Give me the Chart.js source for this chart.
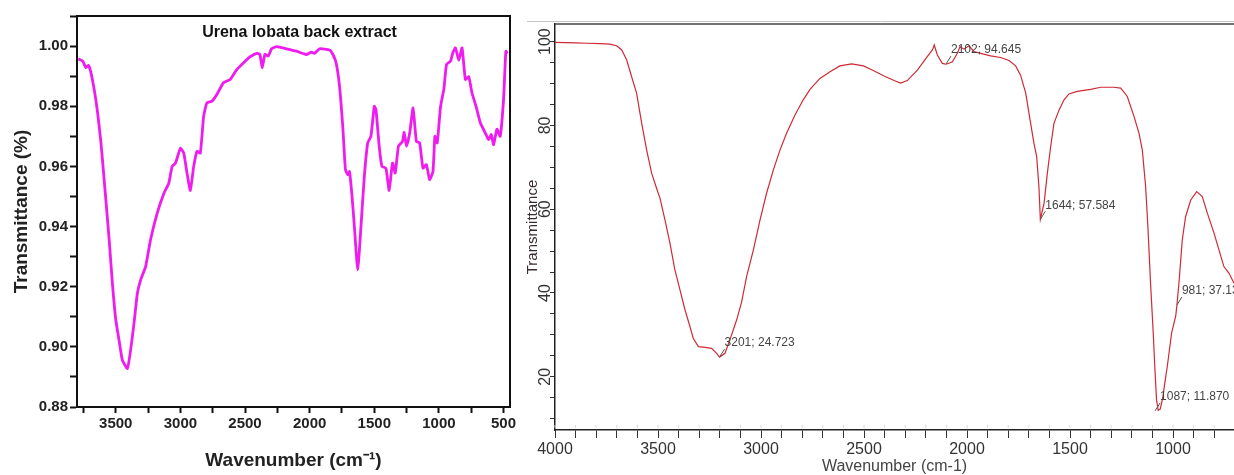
<!DOCTYPE html>
<html lang="en">
  <head>
    <meta charset="UTF-8" />
    <title>FTIR spectra</title>
    <script src="https://cdn.jsdelivr.net/npm/chart.js"></script>
    <style>
      body {
        margin: 0;
        background: #fff;
        width: 1234px;
        height: 475px;
        overflow: hidden;
        position: relative;
      }
      #leftChart { position: absolute; left: 0; top: 0; }
      #rightChart { position: absolute; left: 520px; top: 0; }
    </style>
  </head>
  <body>
    <canvas id="leftChart" width="520" height="475"></canvas>
    <canvas id="rightChart" width="714" height="475"></canvas>
    <script>
      // left spectrum: Urena lobata back extract
      const leftWavenumber = [
        3790, 3756, 3731, 3713, 3697, 3667, 3641, 3615, 3590, 3577, 3551, 3526,
        3500, 3474, 3449, 3410, 3385, 3359, 3333, 3308, 3269, 3231, 3180, 3128,
        3090, 3064, 3038, 3000, 2974, 2949, 2923, 2897, 2872, 2846, 2820, 2795,
        2756, 2718, 2667, 2615, 2564, 2513, 2462, 2410, 2385, 2367, 2346, 2320,
        2295, 2256, 2180, 2103, 2026, 1987, 1962, 1923, 1846, 1820, 1795, 1769,
        1744, 1723, 1705, 1692, 1674, 1654, 1628, 1603, 1577, 1551, 1526, 1500,
        1487, 1462, 1441, 1410, 1385, 1359, 1338, 1313, 1282, 1269, 1251, 1226,
        1200, 1174, 1149, 1123, 1097, 1072, 1046, 1031, 1013, 987, 962, 941,
        910, 892, 872, 846, 821, 795, 769, 744, 713, 679, 641, 615, 595, 577,
        551, 526, 500, 482, 470,
      ];
      const leftTransmittance = [
        0.9958, 0.995, 0.9928, 0.9936, 0.992, 0.9856, 0.978, 0.968, 0.9556,
        0.949, 0.9356, 0.921, 0.909, 0.902, 0.8956, 0.8928, 0.899, 0.9078,
        0.9178, 0.9222, 0.9267, 0.9356, 0.9444, 0.951, 0.9544, 0.96, 0.9611,
        0.966, 0.9644, 0.9578, 0.952, 0.96, 0.965, 0.9644, 0.9767, 0.9811,
        0.9817, 0.9839, 0.9878, 0.9889, 0.9922, 0.9944, 0.9964, 0.9976, 0.9972,
        0.9928, 0.9972, 0.9967, 0.9991, 0.9998, 0.9991, 0.9983, 0.9972, 0.998,
        0.9976, 0.9991, 0.9987, 0.9972, 0.9944, 0.9867, 0.9733, 0.9589, 0.9572,
        0.9583, 0.951, 0.94, 0.9256, 0.94, 0.9567, 0.9678, 0.97, 0.98, 0.9789,
        0.9667, 0.96, 0.9594, 0.952, 0.9611, 0.9578, 0.9667, 0.9683, 0.9713,
        0.9667, 0.9711, 0.9794, 0.9683, 0.9678, 0.9594, 0.9606, 0.9556, 0.9583,
        0.97, 0.9678, 0.98, 0.9856, 0.9939, 0.995, 0.9978, 0.9994, 0.9953,
        0.9994, 0.9889, 0.9898, 0.9844, 0.98, 0.9744, 0.9711, 0.9689, 0.9706,
        0.9672, 0.9724, 0.97, 0.9822, 0.9983, 0.9975,
      ];
      const leftTitle = "Urena lobata back extract";

      // right spectrum (instrument printout)
      const rightWavenumber = [
        4000, 3900, 3846, 3780, 3733, 3701, 3676, 3652, 3628, 3604, 3579, 3555,
        3531, 3507, 3490, 3466, 3442, 3418, 3393, 3369, 3345, 3329, 3304, 3272,
        3240, 3215, 3201, 3175, 3151, 3118, 3094, 3070, 3037, 3005, 2973, 2940,
        2908, 2876, 2835, 2795, 2762, 2714, 2665, 2617, 2560, 2503, 2455, 2403,
        2354, 2322, 2290, 2241, 2193, 2168, 2159, 2144, 2120, 2102, 2085, 2071,
        2047, 2034, 2015, 1990, 1966, 1934, 1885, 1837, 1796, 1764, 1740, 1715,
        1694, 1675, 1662, 1651, 1644, 1626, 1610, 1594, 1578, 1553, 1529, 1505,
        1465, 1400, 1351, 1287, 1254, 1222, 1189, 1165, 1149, 1133, 1122, 1109,
        1096, 1088, 1080, 1072, 1062, 1050, 1040, 1028, 1007, 987, 981, 971,
        955, 939, 914, 885, 858, 833, 801, 777, 753, 728, 704,
      ];
      const rightTransmittance = [
        99.8, 99.7, 99.6, 99.5, 99.4, 99.0, 98.0, 95.6, 91.6, 87.7, 80.5, 74.1,
        68.6, 65.0, 62.6, 57.4, 51.9, 45.5, 40.7, 36.0, 32.0, 29.2, 27.2, 27.0,
        26.8, 25.6, 24.7, 25.6, 28.8, 33.6, 37.9, 43.9, 50.3, 57.4, 63.8, 69.4,
        74.1, 78.1, 82.5, 86.1, 88.6, 91.2, 92.8, 94.2, 94.7, 94.2, 93.1, 91.8,
        90.7, 90.1, 90.7, 93.2, 96.4, 98.0, 99.2, 96.8, 94.8, 94.6, 94.9, 95.2,
        97.2, 98.8, 98.2, 99.0, 97.6, 97.2, 96.6, 96.2, 95.5, 94.2, 92.0, 87.7,
        81.3, 75.7, 72.6, 65.4, 57.6, 61.4, 68.6, 74.9, 80.5, 83.7, 86.1, 87.5,
        88.1, 88.6, 89.1, 89.1, 88.9, 86.9, 82.1, 78.1, 74.1, 65.4, 55.8, 42.3,
        30.4, 22.0, 14.5, 12.0, 12.3, 15.0, 18.5, 22.4, 30.4, 34.5, 37.1, 42.5,
        52.7, 58.2, 62.2, 64.2, 63.0, 59.0, 54.3, 50.3, 46.3, 44.7, 42.3,
      ];
      const peakWavenumber = [3201, 2102, 1644, 1087, 981];
      const peakValue = [24.723, 94.645, 57.584, 11.87, 37.137];

      Chart.defaults.animation = false;
      Chart.defaults.font.family = "'Liberation Sans', Arial, sans-serif";

      const toPoints = (xs, ys) => xs.map((x, i) => ({ x: x, y: ys[i] }));

      // ticks on round multiples of step inside the axis range
      const roundTicks = (step) => (scale) => {
        const ticks = [];
        for (let v = Math.ceil(scale.min / step) * step; v <= scale.max + 1e-9; v += step) {
          ticks.push({ value: Math.round(v * 1000) / 1000 });
        }
        scale.ticks = ticks;
      };

      // box round the plot + title inside the frame
      const leftFrame = {
        id: "leftFrame",
        afterDraw(chart) {
          const { ctx, chartArea: a } = chart;
          ctx.save();
          ctx.strokeStyle = "#111";
          ctx.lineWidth = 2;
          ctx.strokeRect(a.left, a.top, a.right - a.left, a.bottom - a.top);
          ctx.fillStyle = "#111";
          ctx.font = "bold 16px 'Liberation Sans', Arial, sans-serif";
          ctx.textAlign = "center";
          ctx.textBaseline = "middle";
          ctx.fillText(leftTitle, (a.left + a.right) / 2 + 6, a.top + 17);
          ctx.restore();
        },
      };

      new Chart(document.getElementById("leftChart"), {
        type: "line",
        data: {
          datasets: [
            {
              data: toPoints(leftWavenumber, leftTransmittance),
              borderColor: "#ee1cee",
              borderWidth: 2.8,
              pointRadius: 0,
              tension: 0.15,
            },
          ],
        },
        options: {
          responsive: false,
          layout: { padding: { top: 16, right: 10, left: 0, bottom: 0 } },
          plugins: { legend: { display: false }, tooltip: { enabled: false } },
          scales: {
            x: {
              type: "linear",
              reverse: true,
              min: 450,
              max: 3800,
              afterBuildTicks: roundTicks(250),
              afterFit: (s) => { s.height = 68; },
              border: { display: true, color: "#111", width: 2 },
              grid: { drawOnChartArea: false, tickLength: 6, tickColor: "#111", tickWidth: 2 },
              ticks: {
                autoSkip: false,
                maxRotation: 0,
                padding: 2,
                color: "#222",
                font: { size: 15, weight: "bold" },
                callback: (v) => (Math.round(v) % 500 === 0 ? Math.round(v) : ""),
              },
              title: {
                display: true,
                text: "Wavenumber (cm\u207B\u00B9)",
                color: "#222",
                font: { size: 19, weight: "bold" },
                padding: 3,
              },
            },
            y: {
              min: 0.88,
              max: 1.01,
              afterBuildTicks: roundTicks(0.01),
              afterFit: (s) => { s.width = 77; },
              border: { display: true, color: "#111", width: 2 },
              grid: { drawOnChartArea: false, tickLength: 7, tickColor: "#111", tickWidth: 2 },
              ticks: {
                autoSkip: false,
                padding: 2,
                color: "#222",
                font: { size: 15, weight: "bold" },
                callback: (v) => (Math.round(v * 100) % 2 === 0 ? v.toFixed(2) : ""),
              },
              title: {
                display: true,
                text: "Transmittance (%)",
                color: "#222",
                font: { size: 19, weight: "bold" },
                padding: 10,
              },
            },
          },
        },
        plugins: [leftFrame],
      });

      // frame lines and peak labels of the printout
      const rightDecor = {
        id: "rightDecor",
        afterDraw(chart) {
          const { ctx, chartArea: a, scales } = chart;
          ctx.save();
          ctx.strokeStyle = "#c4c4c4";
          ctx.lineWidth = 1;
          ctx.beginPath();
          ctx.moveTo(7, a.top - 2.5);
          ctx.lineTo(chart.width, a.top - 2.5);
          ctx.stroke();
          ctx.strokeStyle = "#444";
          ctx.lineWidth = 1.5;
          ctx.beginPath();
          ctx.moveTo(a.left, a.top);
          ctx.lineTo(a.right, a.top);
          ctx.stroke();

          // faint inner tick marks along the bottom axis
          ctx.strokeStyle = "#d8d8d8";
          ctx.lineWidth = 1;
          scales.x.ticks.forEach((t) => {
            const px = scales.x.getPixelForValue(t.value);
            ctx.beginPath();
            ctx.moveTo(px, a.bottom - 5);
            ctx.lineTo(px, a.bottom - 2);
            ctx.stroke();
          });

          ctx.font = "12px 'Liberation Sans Narrow', 'Liberation Sans', Arial, sans-serif";
          ctx.textBaseline = "middle";
          ctx.textAlign = "left";
          peakWavenumber.forEach((w, i) => {
            const px = scales.x.getPixelForValue(w);
            const py = scales.y.getPixelForValue(peakValue[i]);
            ctx.strokeStyle = "#555";
            ctx.lineWidth = 1;
            ctx.beginPath();
            ctx.moveTo(px, py);
            ctx.lineTo(px + 5, py - 8);
            ctx.stroke();
            ctx.fillStyle = "#444";
            ctx.fillText(w + "; " + peakValue[i].toFixed(3), px + 5, py - 14);
          });
          ctx.restore();
        },
      };

      new Chart(document.getElementById("rightChart"), {
        type: "line",
        data: {
          datasets: [
            {
              data: toPoints(rightWavenumber, rightTransmittance),
              borderColor: "#cf2a35",
              borderWidth: 1.2,
              pointRadius: 0,
              tension: 0,
            },
          ],
        },
        options: {
          responsive: false,
          layout: { padding: { top: 24, right: 0, left: 0, bottom: 0 } },
          plugins: { legend: { display: false }, tooltip: { enabled: false } },
          scales: {
            x: {
              type: "linear",
              reverse: true,
              min: 704,
              max: 4000,
              afterBuildTicks: roundTicks(100),
              afterFit: (s) => { s.height = 45; },
              border: { display: true, color: "#222", width: 1.5 },
              grid: { drawOnChartArea: false, tickLength: 8, tickColor: "#333", tickWidth: 1 },
              ticks: {
                autoSkip: false,
                maxRotation: 0,
                padding: 2,
                color: "#333",
                font: { family: "'Liberation Sans Narrow', 'Liberation Sans', Arial", size: 16 },
                callback: (v) => (Math.round(v) % 500 === 0 ? Math.round(v) : ""),
              },
              title: {
                display: true,
                text: "Wavenumber (cm-1)",
                color: "#444",
                font: { family: "'Liberation Sans Narrow', 'Liberation Sans', Arial", size: 16, lineHeight: 1 },
                padding: 0,
              },
            },
            y: {
              min: 7.3,
              max: 104.2,
              afterBuildTicks: roundTicks(5),
              afterFit: (s) => { s.width = 35; },
              border: { display: true, color: "#222", width: 1.5 },
              grid: { drawOnChartArea: false, tickLength: 5, tickColor: "#333", tickWidth: 1 },
              ticks: {
                autoSkip: false,
                minRotation: 90,
                maxRotation: 90,
                crossAlign: "center",
                padding: -9,
                color: "#333",
                font: { family: "'Liberation Sans Narrow', 'Liberation Sans', Arial", size: 16 },
                callback: (v) => (Math.round(v) % 20 === 0 ? Math.round(v) : ""),
              },
              title: {
                display: true,
                text: "Transmittance",
                color: "#3b2a33",
                font: { size: 15 },
                padding: 4,
              },
            },
          },
        },
        plugins: [rightDecor],
      });
    </script>
  </body>
</html>
